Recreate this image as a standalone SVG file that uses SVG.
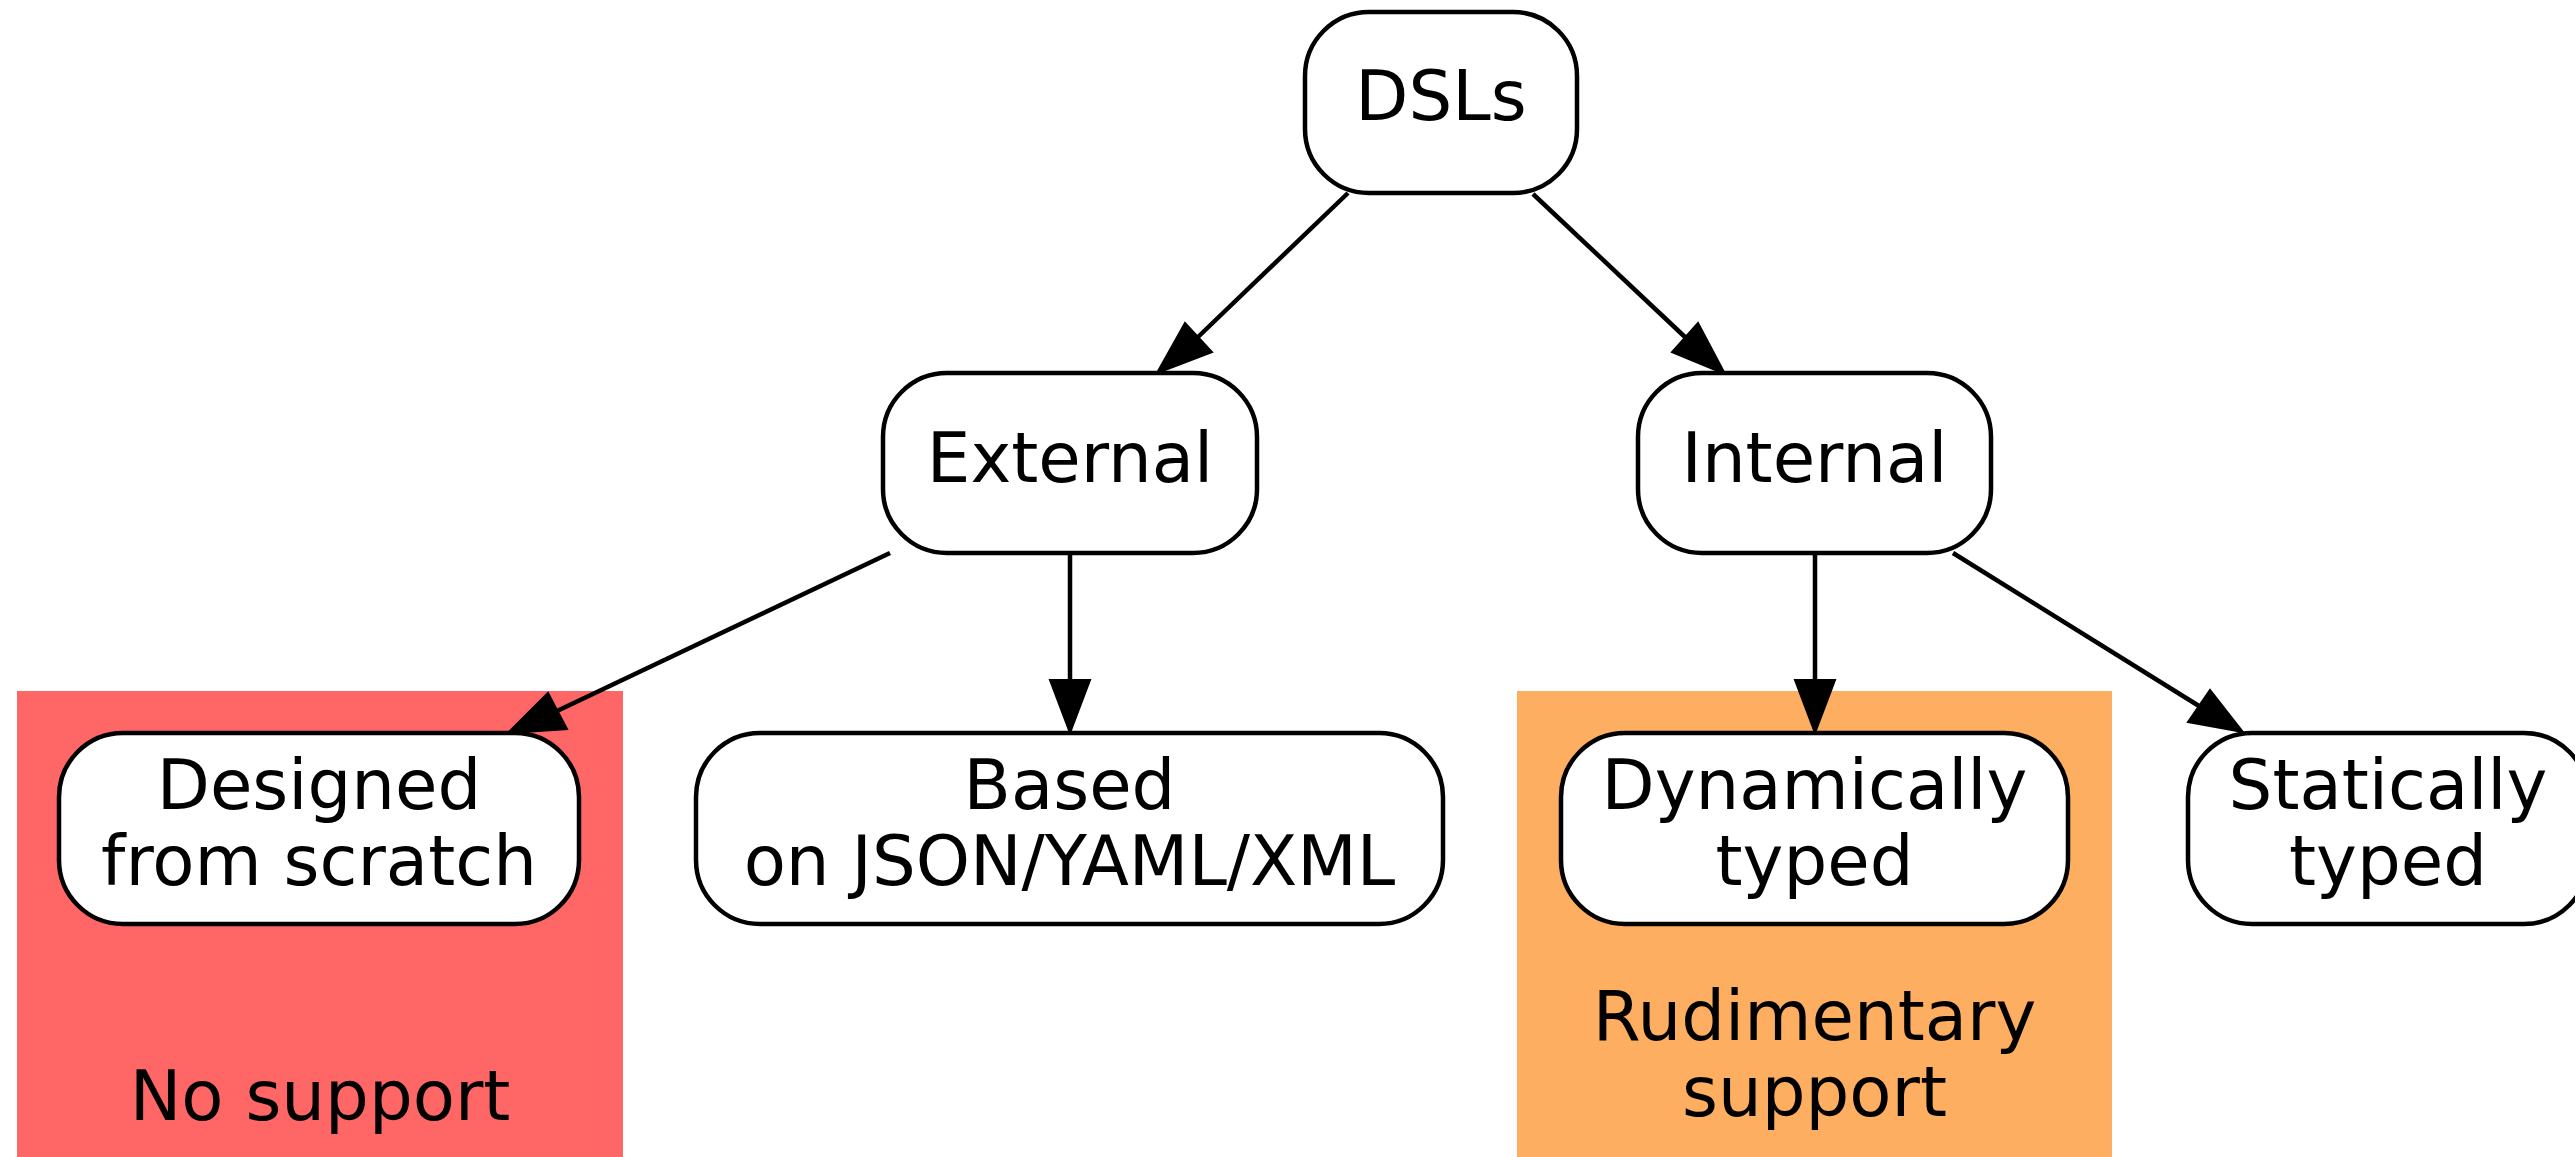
<svg xmlns="http://www.w3.org/2000/svg" width="2575" height="1157" viewBox="0 0 2575 1157">
<style>
.node rect{fill:#ffffff;stroke:#000000;stroke-width:4.5}
text{font-family:"DejaVu Sans","Liberation Sans",sans-serif;font-size:69px;fill:#000000;text-anchor:middle}
.edge line{stroke:#000000;stroke-width:4.5;fill:none}
.edge polygon{fill:#000000;stroke:#000000;stroke-width:2}
</style>
<rect width="2575" height="1157" fill="#ffffff"/>
<g id="cluster_none">
<rect x="17" y="691" width="606" height="480" fill="#ff6666"/>
<text x="320" y="1120">No support</text>
</g>
<g id="cluster_rudimentary">
<rect x="1517" y="691" width="595" height="480" fill="#fdae61"/>
<text x="1814.5" y="1040">Rudimentary</text>
<text x="1814.5" y="1116">support</text>
</g>
<g id="edges" class="edge">
<line x1="1348" y1="193" x2="1198" y2="337"/>
<polygon points="1157,373 1185,323 1212,352"/>
<line x1="1533" y1="194" x2="1685" y2="337"/>
<polygon points="1725,374 1698,323 1672,352"/>
<line x1="890" y1="553" x2="557" y2="711"/>
<polygon points="508,733 548,693 567,729"/>
<line x1="1070" y1="553" x2="1070" y2="684"/>
<polygon points="1070,733 1050,680 1090,680"/>
<line x1="1815" y1="553" x2="1815" y2="684"/>
<polygon points="1815,733 1795,680 1835,680"/>
<line x1="1953" y1="553" x2="2199" y2="706"/>
<polygon points="2243,732 2210,690 2188,722"/>
</g>
<g id="node_dsls" class="node">
<rect x="1305" y="12" width="272" height="181" rx="64" ry="64"/>
<text x="1441" y="120">DSLs</text>
</g>
<g id="node_external" class="node">
<rect x="883" y="373" width="374" height="180" rx="64" ry="64"/>
<text x="1070" y="482">External</text>
</g>
<g id="node_internal" class="node">
<rect x="1638" y="373" width="353" height="180" rx="64" ry="64"/>
<text x="1814.5" y="482">Internal</text>
</g>
<g id="node_designed" class="node">
<rect x="59" y="733" width="520" height="191" rx="64" ry="64"/>
<text x="319" y="809">Designed</text>
<text x="319" y="885">from scratch</text>
</g>
<g id="node_based" class="node">
<rect x="696" y="733" width="747" height="191" rx="64" ry="64"/>
<text x="1069.5" y="809">Based</text>
<text x="1069.5" y="885">on JSON/YAML/XML</text>
</g>
<g id="node_dynamic" class="node">
<rect x="1561" y="733" width="507" height="191" rx="64" ry="64"/>
<text x="1814.5" y="809">Dynamically</text>
<text x="1814.5" y="885">typed</text>
</g>
<g id="node_static" class="node">
<rect x="2188" y="733" width="400" height="191" rx="64" ry="64"/>
<text x="2388" y="809">Statically</text>
<text x="2388" y="885">typed</text>
</g>
</svg>
